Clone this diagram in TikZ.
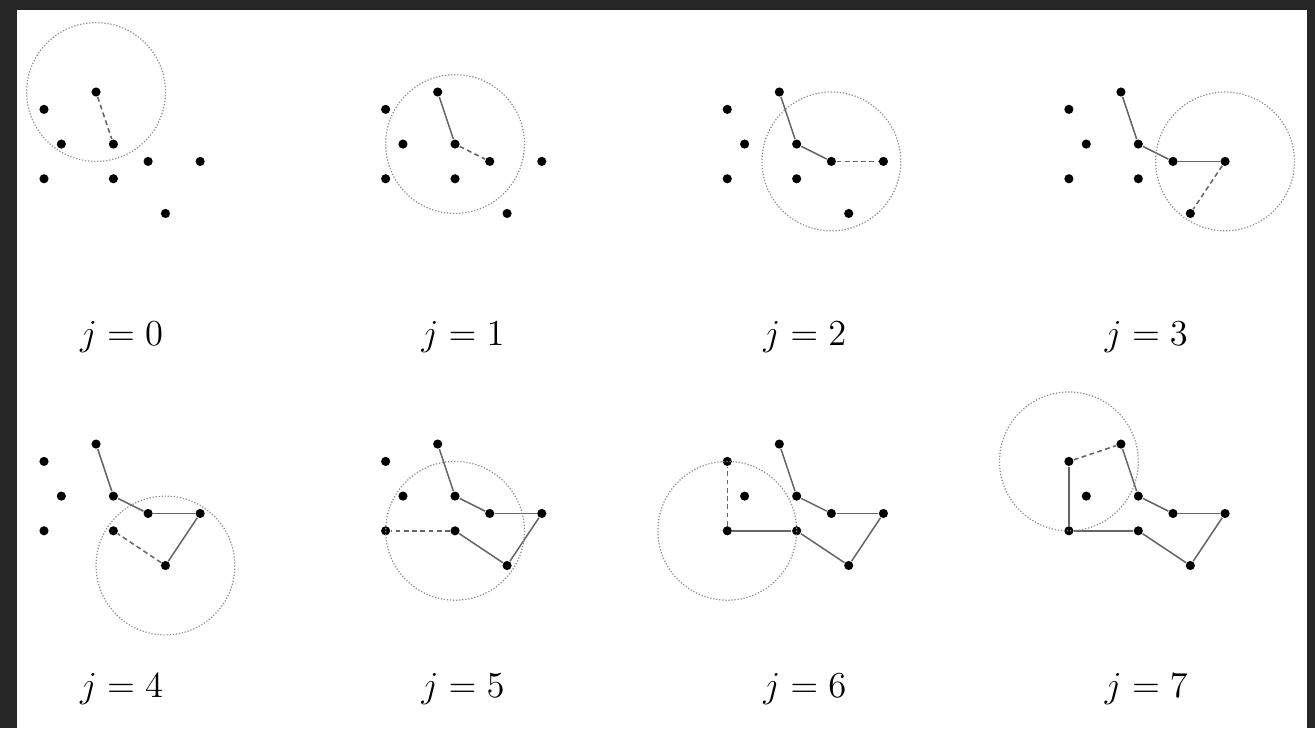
\documentclass[tikz,border=0pt]{standalone}
\begin{document}
\begin{tikzpicture}[x=0.2cm, y=-0.2cm,
		site/.style={circle, fill=black, inner sep=0pt, minimum size=3pt},
		hull/.style={black!60, line width=0.5pt},
		probe/.style={black!60, line width=0.5pt, dash pattern=on 1.6pt off 1.1pt},
		reach/.style={black!45, line width=0.4pt, dash pattern=on 0.4pt off 0.6pt}]
				% Frame
				\fill[black!85] (0,0) rectangle (75.79,41.96);
				\fill[white] (0.98,0.58) rectangle (75.33,41.96);
				\useasboundingbox (0,0) rectangle (75.79,41.96);

				% One panel per step j
				\foreach \j in {0,...,7}{
					\pgfmathsetmacro{\ox}{2.536+19.69*mod(\j,4)}
					\pgfmathsetmacro{\oy}{5.303+20.29*int(\j/4)}
					\begin{scope}[shift={(\ox,\oy)}]
						% Points
						\foreach \n/\gx/\gy in {A/3/0, B/0/1, C/1/3, D/4/3, E/6/4, F/9/4, G/0/5, H/4/5, I/7/7}
							\node[site] (\n\j) at (\gx,\gy) {};

						% Walk so far, next edge and search circle
						\foreach \u/\v [count=\k from 0] in {A/D, D/E, E/F, F/I, I/H, H/G, G/B, B/A}{
							\ifnum\k<\j \draw[hull] (\u\j) -- (\v\j); \fi
							\ifnum\k=\j
								\draw[probe] (\u\j) -- (\v\j);
								\draw[reach] (\u\j) circle[radius=4];
							\fi
						}

						% Step label
						\node (lab\j) at (4.47,14.13) {\large $j=\j$};
					\end{scope}
				}
			\end{tikzpicture}
\end{document}
